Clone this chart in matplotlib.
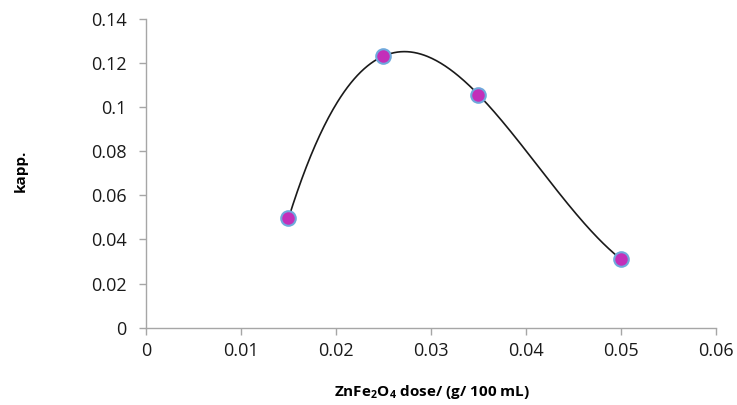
import numpy as np
import matplotlib.pyplot as plt

plt.rcParams['font.family'] = ['Open Sans', 'DejaVu Sans']
plt.rcParams['mathtext.fontset'] = 'custom'
plt.rcParams['mathtext.rm'] = 'Open Sans'
plt.rcParams['mathtext.bf'] = 'Open Sans:bold'

dose = [0.015, 0.025, 0.035, 0.05]
kapp = [0.0495, 0.123, 0.1055, 0.031]
xticks = [0, 0.01, 0.02, 0.03, 0.04, 0.05, 0.06]
xlabels = ['0', '0.01', '0.02', '0.03', '0.04', '0.05', '0.06']
yticks = [0, 0.02, 0.04, 0.06, 0.08, 0.1, 0.12, 0.14]
ylabels = ['0', '0.02', '0.04', '0.06', '0.08', '0.1', '0.12', '0.14']

# 3rd order polynomial trendline through the points (like Excel's Poly 3)
coef = np.polyfit(dose, kapp, 3)
xfit = np.linspace(min(dose), max(dose), 300)
yfit = np.polyval(coef, xfit)

fig = plt.figure(figsize=(7.37, 4.05), dpi=100)
ax = fig.add_axes([0.1981, 0.1909, 0.7734, 0.7634])

ax.plot(xfit, yfit, color='#1a1a1a', lw=1.2, zorder=2)
ax.scatter(dose, kapp, s=110, color='#C32FB9', edgecolor='#6FA8DC',
           linewidth=1.5, zorder=3)

ax.set_xlim(0, 0.06)
ax.set_ylim(0, 0.14)
ax.set_xticks(xticks)
ax.set_xticklabels(xlabels)
ax.set_yticks(yticks)
ax.set_yticklabels(ylabels)

for s in ['top', 'right']:
    ax.spines[s].set_visible(False)
for s in ['left', 'bottom']:
    ax.spines[s].set_color('#A6A6A6')
    ax.spines[s].set_linewidth(1.0)
ax.tick_params(direction='out', length=5, width=1.0, color='#A6A6A6',
               labelsize=13, labelcolor='#1a1a1a')
ax.tick_params(axis='y', pad=9)
ax.tick_params(axis='x', pad=5)

fig.text(432 / 737, 1 - 392 / 405,
         r'ZnFe$_\mathbf{2}$O$_\mathbf{4}$ dose/ (g/ 100 mL)',
         fontsize=11, fontweight='bold', ha='center', va='center')
fig.text(21 / 737, 1 - 171 / 405, 'kapp.', fontsize=11, fontweight='bold',
         rotation=90, ha='center', va='center')

fig.savefig('out.png', dpi=100)
